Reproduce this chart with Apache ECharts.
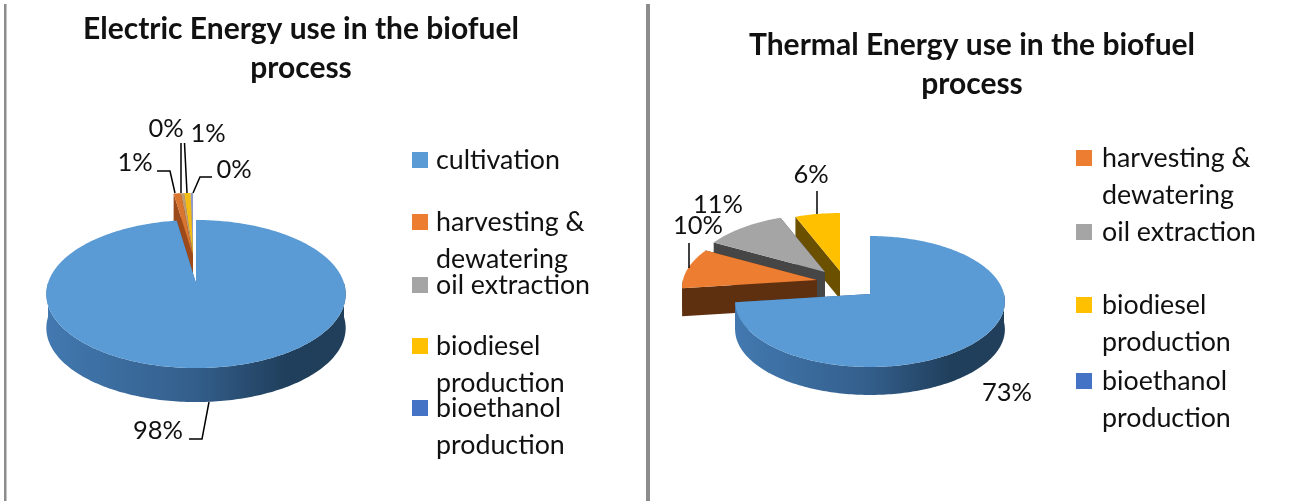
<!DOCTYPE html>
<html>
<head>
<meta charset="utf-8">
<title>Energy use in the biofuel process</title>
<script src="https://cdn.jsdelivr.net/npm/echarts@6/dist/echarts.min.js"></script>
<style>
html, body { margin: 0; padding: 0; background: #fff; }
#main { width: 1290px; height: 501px; }
</style>
</head>
<body>
<div id="main"></div>
<script>
// data
var electricCategories = ['cultivation', 'harvesting &\ndewatering', 'oil extraction', 'biodiesel\nproduction', 'bioethanol\nproduction'];
var electricValues = [97.6, 0.9, 0.4, 0.8, 0.3];
var thermalCategories = ['harvesting &\ndewatering', 'oil extraction', 'biodiesel\nproduction', 'bioethanol\nproduction'];
var thermalValues = [73, 10, 11, 6];

var FONT = 'Lato, "Open Sans", sans-serif';
var LABEL_SIZE = 25.5;
var LEGEND_SIZE = 26.8;

// pie geometry, k is the perspective of the tilted disc
var electricPie = { cx: 196, cy: 283, rx: 148, ry: 72.4, k: 0.149, depth: 34 };
var thermalPie = { cx: 870, cy: 294, rx: 134, ry: 64.6, k: 0.1145, depth: 28 };

var electricStyle = {
    colors: ['#5b9bd5', '#d9752f', '#c09a70', '#f2bc14', '#8f9cc8'],
    sides: [null, '#9c4a1a', '#8f7a55', '#a87a20', '#7a88b0'],
    offsets: [[0, 0], [-3, -27], [-3, -27], [-3, -27], [-3, -27]],
    labels: [[158, 431], [135, 163], [166, 129], [208, 134], [234, 170]],
    leaders: [
        [[209, 402], [202, 439], [189, 439]],
        [[157, 171], [170, 171], [175, 193]],
        [[181, 143], [181, 193]],
        [[184.5, 143], [187, 193]],
        [[212, 177], [200, 177], [193, 193]]
    ],
    // legend marks keep the plain office colours, the thin slices read blended
    legend: ['#5b9bd5', '#ed7d31', '#a5a5a5', '#ffc000', '#4472c4']
};
var thermalStyle = {
    colors: ['#5b9bd5', '#ed7d31', '#a5a5a5', '#ffc000'],
    sides: [null, '#5f3010', '#464646', '#6b5000'],
    offsets: [[0, 0], [-53, -14], [-45, -22], [-30, -23]],
    labels: [[1007, 393], [698, 226], [718, 205], [811, 175]],
    leaders: [
        null,
        [[689, 243], [689, 268]],
        null,
        [[817, 191], [817, 214]]
    ],
    legend: ['#5b9bd5', '#ed7d31', '#a5a5a5', '#ffc000']
};

var blueSide = {
    type: 'linear', x: 0, y: 0, x2: 1, y2: 0,
    colorStops: [
        { offset: 0, color: '#4279b0' },
        { offset: 0.5, color: '#335e8b' },
        { offset: 0.8, color: '#203f5c' },
        { offset: 1, color: '#213f5a' }
    ]
};

function project(pie, deg, off, down) {
    var a = deg * Math.PI / 180;
    var u = Math.sin(a), v = Math.cos(a);
    var w = 1 + pie.k * v;
    return [pie.cx + off[0] + pie.rx * u / w, pie.cy + off[1] - pie.ry * v / w + (down || 0)];
}

function apex(pie, off, down) {
    return [pie.cx + off[0], pie.cy + off[1] + (down || 0)];
}

function arcPoints(pie, from, to, off, down) {
    var pts = [];
    for (var d = from; d < to; d += 1) {
        pts.push(project(pie, d, off, down));
    }
    pts.push(project(pie, to, off, down));
    return pts;
}

function sliceRenderer(pie, values, style, index) {
    var start = 0, total = 0;
    values.forEach(function (v, i) {
        total += v;
        if (i < index) { start += v; }
    });
    var from = start / total * 360;
    var to = (start + values[index]) / total * 360;
    var off = style.offsets[index];
    var color = style.colors[index];
    var side = style.sides[index] || blueSide;

    return function (params, api) {
        var children = [];

        // the two cut faces
        [from, to].forEach(function (deg) {
            children.push({
                type: 'polygon',
                shape: { points: [apex(pie, off), project(pie, deg, off), project(pie, deg, off, pie.depth), apex(pie, off, pie.depth)] },
                style: { fill: side === blueSide ? '#2f5a85' : side }
            });
        });

        // outer wall, front half only
        var wallFrom = Math.max(from, 90), wallTo = Math.min(to, 270);
        if (wallFrom < wallTo) {
            var upper = arcPoints(pie, wallFrom, wallTo, off);
            var lower = arcPoints(pie, wallFrom, wallTo, off, pie.depth).reverse();
            children.push({
                type: 'polygon',
                shape: { points: upper.concat(lower) },
                style: { fill: side }
            });
        }

        // top face
        children.push({
            type: 'polygon',
            shape: { points: [apex(pie, off)].concat(arcPoints(pie, from, to, off)) },
            style: { fill: color }
        });

        if (style.leaders[index]) {
            children.push({
                type: 'polyline',
                shape: { points: style.leaders[index] },
                style: { fill: null, stroke: '#000', lineWidth: 1.5 },
                z2: 20
            });
        }
        children.push({
            type: 'text',
            style: {
                text: Math.round(api.value(0) / total * 100) + '%',
                x: style.labels[index][0],
                y: style.labels[index][1],
                align: 'center',
                verticalAlign: 'middle',
                fill: '#111',
                font: LABEL_SIZE + 'px ' + FONT
            },
            z2: 20
        });
        return { type: 'group', children: children };
    };
}

// one series per slice, nearest slice last
function buildSeries(pie, categories, values, style) {
    var list = [];
    for (var i = categories.length - 1; i >= 0; i--) {
        list.push({
            type: 'custom',
            name: categories[i],
            coordinateSystem: 'none',
            silent: true,
            animation: false,
            itemStyle: { color: style.legend[i] },
            data: [[values[i]]],
            renderItem: sliceRenderer(pie, values, style, i)
        });
    }
    return list;
}

// the legend centres its mark on the text, a blank first line keeps it on the first row
function legendText(name) {
    var p = name.split('\n');
    return ' \n' + p[0] + '\n' + (p[1] || ' ');
}

function buildLegend(categories, rows, left, textGap) {
    return categories.map(function (name, i) {
        return {
            data: [{ name: name, icon: 'rect' }],
            left: left,
            top: rows[i] - 55.5,
            padding: 0,
            itemWidth: 16,
            itemHeight: 16,
            itemGap: 0,
            selectedMode: false,
            formatter: legendText,
            textStyle: { fontFamily: FONT, fontSize: LEGEND_SIZE, lineHeight: 37, color: '#111', padding: [0, 0, 0, textGap] }
        };
    });
}

var titleStyle = { fontFamily: FONT, fontSize: 30, fontWeight: 'bold', lineHeight: 39, color: '#111' };

var chart = echarts.init(document.getElementById('main'));
chart.setOption({
    backgroundColor: '#fff',
    animation: false,
    title: [
        { text: 'Electric Energy use in the biofuel\nprocess', left: 301, top: 10, textAlign: 'center', textStyle: titleStyle, padding: 0 },
        { text: 'Thermal Energy use in the biofuel\nprocess', left: 972, top: 26, textAlign: 'center', textStyle: titleStyle, padding: 0 }
    ],
    legend: buildLegend(electricCategories, [160, 222, 285, 346, 408], 412, 3)
        .concat(buildLegend(thermalCategories, [158, 232, 305, 381], 1076, 5)),
    series: buildSeries(electricPie, electricCategories, electricValues, electricStyle)
        .concat(buildSeries(thermalPie, thermalCategories, thermalValues, thermalStyle)),
    graphic: [
        { type: 'rect', shape: { x: 4, y: 4, width: 2.5, height: 497 }, style: { fill: '#8c8c8c' } },
        { type: 'rect', shape: { x: 646, y: 4, width: 4, height: 497 }, style: { fill: '#8c8c8c' } }
    ]
});
</script>
</body>
</html>
